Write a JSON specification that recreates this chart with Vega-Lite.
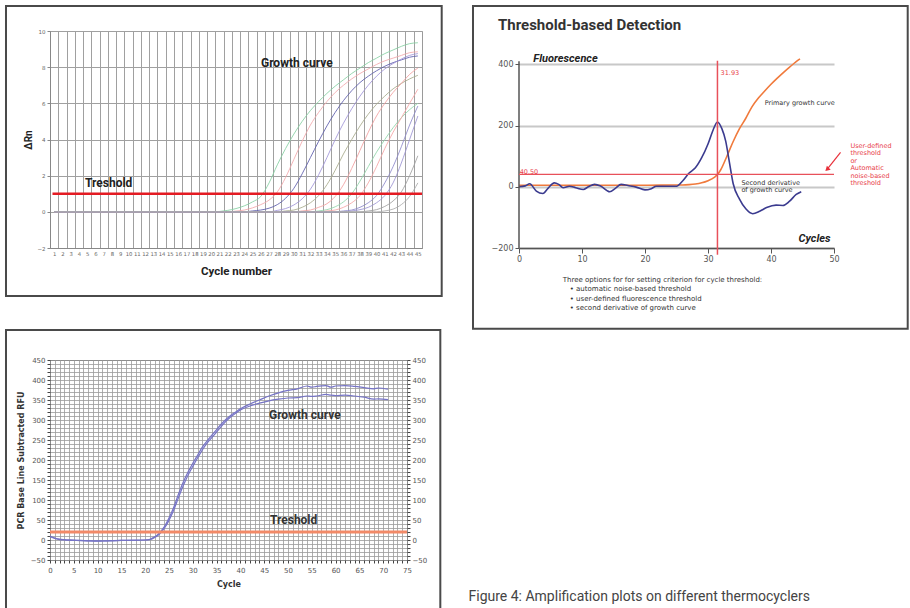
{
  "$schema": "https://vega.github.io/schema/vega-lite/v6.json",
  "background": "white",
  "padding": {"left": 4, "top": 4, "right": 0, "bottom": 0},
  "config": {"view": {"stroke": null}, "font": "Roboto"},
  "title": {"text": "Figure 4: Amplification plots on different thermocyclers", "orient": "bottom", "anchor": "start", "frame": "bounds", "offset": -27, "dx": 464, "font": "Roboto", "fontSize": 14, "fontWeight": "normal", "color": "#444444"},
  "spacing": -2,
  "vconcat": [
    {
      "spacing": 27,
      "hconcat": [
        {
          "width": 372,
          "height": 217,
          "view": {"stroke": "#9a9a9a"},
          "layer": [
            {
              "data": {"name": "p1"},
              "mark": {"type": "line", "interpolate": "monotone", "strokeWidth": 1, "opacity": 0.85},
              "encoding": {
                "x": {"field": "n", "type": "quantitative",
                  "scale": {"domain": [0.5, 45.5], "nice": false, "zero": false},
                  "axis": {"values": [1,2,3,4,5,6,7,8,9,10,11,12,13,14,15,16,17,18,19,20,21,22,23,24,25,26,27,28,29,30,31,32,33,34,35,36,37,38,39,40,41,42,43,44,45],
                    "format": "d", "tickCount": 200, "grid": true, "gridColor": "#a0a0a0", "gridWidth": 1, "ticks": false, "tickOffset": -4.133, "labelOffset": 4.133,
                    "domainColor": "#888888", "labelFont": "DejaVu Sans", "labelFontSize": 5.3, "labelColor": "#666666", "labelPadding": 3,
                    "labelFlush": false, "labelOverlap": false,
                    "title": "Cycle number", "titleFont": "Roboto", "titleFontSize": 11.5, "titleFontWeight": "bold", "titleColor": "#222222", "titlePadding": 9}},
                "y": {"field": "v", "type": "quantitative",
                  "scale": {"domain": [-2, 10], "nice": false, "zero": false},
                  "axis": {"values": [-2,0,2,4,6,8,10], "format": "d", "tickCount": 200, "grid": true, "gridColor": "#a0a0a0", "tickSize": 3, "tickColor": "#888888", "domainColor": "#888888",
                    "labelFont": "DejaVu Sans", "labelFontSize": 5.5, "labelColor": "#666666", "labelPadding": 2, "labelOverlap": false,
                    "title": "ΔRn", "titleFont": "Roboto", "titleFontSize": 10, "titleFontWeight": "bold", "titleColor": "#222222", "titlePadding": 3}},
                "color": {"field": "c", "type": "nominal", "legend": null,
                  "scale": {"domain": ["c1","c2","c3","c4","c5","c6","c7","c8","c9","c10","c11","c12"],
                    "range": ["#86d0a2","#f2a8ac","#5c5cab","#a094d8","#a8aa8c","#f2a0a0","#92d6aa","#f4a6a6","#8e8acb","#9c94d4","#a0a0a0","#ababab"]}}
              }
            },
            {
              "data": {"values": [{}]},
              "mark": {"type": "rule", "color": "#e41b23", "strokeWidth": 2.5},
              "encoding": {"x": {"datum": 0.8, "type": "quantitative"}, "x2": {"datum": 45.5}, "y": {"datum": 1, "type": "quantitative"}}
            },
            {
              "data": {"name": "p1text"},
              "mark": {"type": "text", "align": "left", "baseline": "middle", "font": "Roboto", "fontWeight": "bold", "fontSize": 12, "color": "#222222"},
              "encoding": {"x": {"field": "n", "type": "quantitative"}, "y": {"field": "v", "type": "quantitative"}, "text": {"field": "label"}}
            },
            {
              "data": {"values": [{}]},
              "mark": {"type": "rect", "filled": false, "color": "#4a4a4a", "strokeWidth": 2},
              "encoding": {"x": {"datum": -4.823, "type": "quantitative"}, "x2": {"datum": 47.883}, "y": {"datum": 11.383, "type": "quantitative"}, "y2": {"datum": -4.654}}
            }
          ]
        },
        {
          "width": 315,
          "height": 217,
          "title": {"text": "Threshold-based Detection", "anchor": "start", "offset": -28, "dx": 26, "font": "Roboto", "fontSize": 15, "fontWeight": "bold", "color": "#333333"},
          "layer": [
            {
              "data": {"name": "p2g"},
              "mark": {"type": "line", "interpolate": "monotone", "strokeWidth": 1.6, "color": "#f07a3c"},
              "encoding": {
                "x": {"field": "x", "type": "quantitative",
                  "scale": {"domain": [0, 50], "nice": false, "zero": false},
                  "axis": {"values": [0,10,20,30,40,50], "tickCount": 50, "grid": false, "domainColor": "#555555", "domainWidth": 1.5, "tickColor": "#555555", "tickSize": 5,
                    "labelFont": "DejaVu Sans", "labelFontSize": 8, "labelColor": "#555555", "labelPadding": 2, "labelFlush": false,
                    "title": "Cycles", "titleFont": "Roboto", "titleFontSize": 11, "titleFontWeight": "bold", "titleFontStyle": "italic", "titleColor": "#222222",
                    "titleX": 295, "titleY": -7, "titleAlign": "center", "titleBaseline": "alphabetic"}},
                "y": {"field": "y", "type": "quantitative",
                  "scale": {"domain": [-200, 509.2], "nice": false, "zero": false},
                  "axis": {"values": [-200,0,200,400], "tickCount": 50, "grid": true, "gridColor": "#c8c8c8", "gridWidth": 2, "domain": false, "tickColor": "#555555", "tickSize": 4,
                    "labelFont": "DejaVu Sans", "labelFontSize": 8, "labelColor": "#555555", "labelPadding": 2,
                    "title": "Fluorescence", "titleFont": "Roboto", "titleFontSize": 11, "titleFontWeight": "bold", "titleFontStyle": "italic", "titleColor": "#222222",
                    "titleAngle": 0, "titleX": 46, "titleY": 30.5, "titleAlign": "center", "titleBaseline": "alphabetic"}}
              }
            },
            {
              "data": {"name": "p2d"},
              "mark": {"type": "line", "interpolate": "monotone", "strokeWidth": 1.6, "color": "#3b3b8f"},
              "encoding": {"x": {"field": "x", "type": "quantitative"}, "y": {"field": "y", "type": "quantitative"}}
            },
            {
              "data": {"values": [{}]},
              "mark": {"type": "rule", "color": "#555555", "strokeWidth": 1.5},
              "encoding": {"x": {"datum": 0, "type": "quantitative"}, "y": {"datum": -200, "type": "quantitative"}, "y2": {"datum": 410}}
            },
            {
              "data": {"values": [{}]},
              "mark": {"type": "rule", "color": "#e8505a", "strokeWidth": 1.2},
              "encoding": {"x": {"datum": 0, "type": "quantitative"}, "x2": {"datum": 50}, "y": {"datum": 40.5, "type": "quantitative"}}
            },
            {
              "data": {"values": [{}]},
              "mark": {"type": "rule", "color": "#e8505a", "strokeWidth": 1.5},
              "encoding": {"x": {"datum": 31.5, "type": "quantitative"}, "y": {"datum": -222, "type": "quantitative"}, "y2": {"datum": 412}}
            },
            {
              "data": {"values": [{}]},
              "mark": {"type": "rule", "color": "#e8303a", "strokeWidth": 1.2},
              "encoding": {"x": {"datum": 51.04, "type": "quantitative"}, "y": {"datum": 112.5, "type": "quantitative"}, "x2": {"datum": 48.9}, "y2": {"datum": 57}}
            },
            {
              "data": {"values": [{}]},
              "mark": {"type": "point", "shape": "triangle-up", "filled": true, "size": 30, "angle": 226, "color": "#e8303a", "opacity": 1},
              "encoding": {"x": {"datum": 48.9, "type": "quantitative"}, "y": {"datum": 57, "type": "quantitative"}}
            },
            {
              "data": {"name": "p2red"},
              "mark": {"type": "text", "align": "left", "baseline": "middle", "font": "DejaVu Sans", "fontSize": 6.5, "color": "#e8404a"},
              "encoding": {"x": {"field": "x", "type": "quantitative"}, "y": {"field": "y", "type": "quantitative"}, "text": {"field": "label"}}
            },
            {
              "data": {"name": "p2dark"},
              "mark": {"type": "text", "align": "left", "baseline": "middle", "font": "DejaVu Sans", "fontSize": 6.5, "color": "#333333"},
              "encoding": {"x": {"field": "x", "type": "quantitative"}, "y": {"field": "y", "type": "quantitative"}, "text": {"field": "label"}}
            },
            {
              "data": {"name": "p2note"},
              "mark": {"type": "text", "align": "left", "baseline": "middle", "font": "DejaVu Sans", "fontSize": 7, "color": "#333333"},
              "encoding": {"x": {"field": "x", "type": "quantitative"}, "y": {"field": "y", "type": "quantitative"}, "text": {"field": "label"}}
            },
            {
              "data": {"values": [{}]},
              "mark": {"type": "rect", "filled": false, "color": "#4a4a4a", "strokeWidth": 2},
              "encoding": {"x": {"datum": -7.302, "type": "quantitative"}, "x2": {"datum": 61.7}, "y": {"datum": 590.9, "type": "quantitative"}, "y2": {"datum": -463.5}}
            }
          ]
        }
      ]
    },
    {
      "width": 357,
      "height": 200,
      "view": {"stroke": "#555555"},
      "resolve": {"axis": {"y": "independent"}},
      "layer": [
        {
          "data": {"name": "p3"},
          "mark": {"type": "line", "interpolate": "monotone", "strokeWidth": 1.2, "color": "#7674c6"},
          "encoding": {
            "x": {"field": "x", "type": "quantitative",
              "scale": {"domain": [0, 75], "nice": false, "zero": false},
              "axis": {"values": [0,1,2,3,4,5,6,7,8,9,10,11,12,13,14,15,16,17,18,19,20,21,22,23,24,25,26,27,28,29,30,31,32,33,34,35,36,37,38,39,40,41,42,43,44,45,46,47,48,49,50,51,52,53,54,55,56,57,58,59,60,61,62,63,64,65,66,67,68,69,70,71,72,73,74,75],
                "format": "d", "tickCount": 200, "grid": true, "gridColor": "#9a9a9a", "gridWidth": 0.8, "tickSize": 3, "tickColor": "#444444", "domain": false,
                "labelExpr": "datum.value % 5 === 0 ? datum.label : ''",
                "labelFont": "DejaVu Sans", "labelFontSize": 7, "labelColor": "#555555", "labelPadding": 3, "labelFlush": false, "labelOverlap": false,
                "title": "Cycle", "titleFont": "DejaVu Sans", "titleFontSize": 8, "titleFontWeight": "bold", "titleColor": "#333333", "titlePadding": 7}},
            "y": {"field": "y", "type": "quantitative",
              "scale": {"domain": [-50, 450], "nice": false, "zero": false},
              "axis": {"orient": "left", "values": [-50,-40,-30,-20,-10,0,10,20,30,40,50,60,70,80,90,100,110,120,130,140,150,160,170,180,190,200,210,220,230,240,250,260,270,280,290,300,310,320,330,340,350,360,370,380,390,400,410,420,430,440,450],
                "format": "d", "tickCount": 200, "grid": true, "gridColor": "#9a9a9a", "gridWidth": 0.8, "tickSize": 3, "tickColor": "#444444", "domain": false,
                "labelExpr": "datum.value % 50 === 0 ? datum.label : ''",
                "labelFont": "DejaVu Sans", "labelFontSize": 7, "labelColor": "#555555", "labelPadding": 2, "labelOverlap": false,
                "title": "PCR Base Line Subtracted RFU", "titleFont": "DejaVu Sans", "titleFontSize": 8, "titleFontWeight": "bold", "titleColor": "#333333", "titlePadding": 5}},
            "detail": {"field": "s", "type": "nominal"}
          }
        },
        {
          "data": {"values": [{}]},
          "mark": {"type": "rule", "color": "#f28a68", "strokeWidth": 3},
          "encoding": {
            "x": {"datum": 0, "type": "quantitative"}, "x2": {"datum": 75},
            "y": {"datum": 20, "type": "quantitative",
              "axis": {"orient": "right", "values": [-50,-40,-30,-20,-10,0,10,20,30,40,50,60,70,80,90,100,110,120,130,140,150,160,170,180,190,200,210,220,230,240,250,260,270,280,290,300,310,320,330,340,350,360,370,380,390,400,410,420,430,440,450],
                "format": "d", "tickCount": 200, "grid": false, "tickSize": 3, "tickColor": "#444444", "domain": false,
                "labelExpr": "datum.value % 50 === 0 ? datum.label : ''",
                "labelFont": "DejaVu Sans", "labelFontSize": 7, "labelColor": "#555555", "labelPadding": 2, "labelOverlap": false, "title": null}}
          }
        },
        {
          "data": {"name": "p3text"},
          "mark": {"type": "text", "align": "left", "baseline": "middle", "font": "Roboto", "fontWeight": "bold", "fontSize": 12, "color": "#333333"},
          "encoding": {"x": {"field": "x", "type": "quantitative"}, "y": {"field": "y", "type": "quantitative", "axis": null}, "text": {"field": "label"}}
        },
        {
          "data": {"values": [{}]},
          "mark": {"type": "rect", "filled": false, "color": "#4a4a4a", "strokeWidth": 2},
          "encoding": {"x": {"datum": -9.244, "type": "quantitative"}, "x2": {"datum": 82.0}, "y": {"datum": 525, "type": "quantitative", "axis": null}, "y2": {"datum": -189.25}}
        }
      ]
    }
  ],
  "datasets": {
    "p1text": [
      {"label": "Growth curve", "n": 26.02, "v": 8.23},
      {"label": "Treshold", "n": 4.73, "v": 1.594}
    ],
    "p3text": [
      {"label": "Growth curve", "x": 46.0, "y": 313},
      {"label": "Treshold", "x": 46.2, "y": 51}
    ],
    "p2red": [
      {"label": "31.93", "x": 32.0, "y": 372},
      {"label": "40.50", "x": 0.1, "y": 47},
      {"label": "User-defined", "x": 52.6, "y": 132},
      {"label": "threshold", "x": 52.6, "y": 109.2},
      {"label": "or", "x": 52.6, "y": 85.4},
      {"label": "Automatic", "x": 52.6, "y": 60.3},
      {"label": "noise-based", "x": 52.6, "y": 35.5},
      {"label": "threshold", "x": 52.6, "y": 11.4}
    ],
    "p2dark": [
      {"label": "Primary growth curve", "x": 39.0, "y": 275},
      {"label": "Second derivative", "x": 35.3, "y": 11},
      {"label": "of growth curve", "x": 35.3, "y": -12}
    ],
    "p2note": [
      {"label": "Three options for for setting criterion for cycle threshold:", "x": 6.94, "y": -306},
      {"label": "• automatic noise-based threshold", "x": 8.05, "y": -335},
      {"label": "• user-defined fluorescence threshold", "x": 8.05, "y": -367},
      {"label": "• second derivative of growth curve", "x": 8.05, "y": -396}
    ],
    "p2g": [
      {"x": 0, "y": 5}, {"x": 5, "y": 5}, {"x": 10, "y": 5}, {"x": 15, "y": 5},
      {"x": 20, "y": 5}, {"x": 25, "y": 6}, {"x": 26, "y": 6}, {"x": 27, "y": 7},
      {"x": 28, "y": 9}, {"x": 29, "y": 13}, {"x": 30, "y": 20}, {"x": 31, "y": 31},
      {"x": 31.5, "y": 40}, {"x": 32, "y": 55}, {"x": 33, "y": 100}, {"x": 34, "y": 148},
      {"x": 35, "y": 190}, {"x": 36, "y": 224}, {"x": 37, "y": 262}, {"x": 38, "y": 290},
      {"x": 39, "y": 313}, {"x": 40, "y": 335}, {"x": 41, "y": 355}, {"x": 42, "y": 374},
      {"x": 43, "y": 392}, {"x": 44, "y": 409}, {"x": 44.6, "y": 418}
    ],
    "p2d": [
      {"x": 0, "y": 0}, {"x": 1, "y": 3}, {"x": 1.7, "y": 10}, {"x": 2.75, "y": -14},
      {"x": 3.8, "y": -22}, {"x": 4.6, "y": -5}, {"x": 5.6, "y": 13}, {"x": 6.3, "y": 8},
      {"x": 7, "y": -3}, {"x": 8, "y": 2}, {"x": 9, "y": -3}, {"x": 10.2, "y": -9},
      {"x": 11, "y": 0}, {"x": 12, "y": 8}, {"x": 13, "y": 2}, {"x": 14.4, "y": -16},
      {"x": 15.3, "y": -5}, {"x": 16.2, "y": 8}, {"x": 17.3, "y": 4}, {"x": 18.6, "y": -1},
      {"x": 20, "y": -10}, {"x": 21, "y": -6}, {"x": 21.8, "y": 2}, {"x": 23, "y": 2},
      {"x": 25, "y": 2}, {"x": 26, "y": 20}, {"x": 27, "y": 45}, {"x": 28, "y": 62},
      {"x": 29, "y": 95}, {"x": 30, "y": 140}, {"x": 30.8, "y": 185}, {"x": 31.5, "y": 212},
      {"x": 32.2, "y": 190}, {"x": 32.8, "y": 150}, {"x": 33.4, "y": 80}, {"x": 34, "y": 10},
      {"x": 35, "y": -40}, {"x": 36, "y": -72}, {"x": 37.1, "y": -88}, {"x": 38.2, "y": -80},
      {"x": 39.3, "y": -68}, {"x": 40.8, "y": -60}, {"x": 41.9, "y": -61}, {"x": 42.9, "y": -48},
      {"x": 44, "y": -25}, {"x": 44.8, "y": -16}
    ],
    "p3": [
      {"s": "U", "x": 0, "y": 10}, {"s": "U", "x": 1, "y": 5}, {"s": "U", "x": 2, "y": 2}, {"s": "U", "x": 3, "y": 1}, {"s": "U", "x": 5, "y": 0},
      {"s": "U", "x": 8, "y": -2}, {"s": "U", "x": 10, "y": -3}, {"s": "U", "x": 12, "y": -2}, {"s": "U", "x": 15, "y": -1}, {"s": "U", "x": 18, "y": -1},
      {"s": "U", "x": 20, "y": 0}, {"s": "U", "x": 21, "y": 2}, {"s": "U", "x": 22, "y": 8}, {"s": "U", "x": 23, "y": 18}, {"s": "U", "x": 24, "y": 33},
      {"s": "U", "x": 25, "y": 55}, {"s": "U", "x": 26, "y": 82}, {"s": "U", "x": 27, "y": 115}, {"s": "U", "x": 28, "y": 145}, {"s": "U", "x": 29, "y": 170},
      {"s": "U", "x": 30, "y": 192}, {"s": "U", "x": 31, "y": 212}, {"s": "U", "x": 32, "y": 232}, {"s": "U", "x": 33, "y": 248}, {"s": "U", "x": 34, "y": 262},
      {"s": "U", "x": 35, "y": 276}, {"s": "U", "x": 36, "y": 290}, {"s": "U", "x": 37, "y": 302}, {"s": "U", "x": 38, "y": 312}, {"s": "U", "x": 39, "y": 320},
      {"s": "U", "x": 40, "y": 328}, {"s": "U", "x": 42, "y": 340}, {"s": "U", "x": 44, "y": 350}, {"s": "U", "x": 46, "y": 360}, {"s": "U", "x": 48, "y": 368},
      {"s": "U", "x": 50, "y": 374}, {"s": "U", "x": 52, "y": 378}, {"s": "U", "x": 54, "y": 385}, {"s": "U", "x": 55, "y": 382}, {"s": "U", "x": 56, "y": 384},
      {"s": "U", "x": 58, "y": 386}, {"s": "U", "x": 59, "y": 382}, {"s": "U", "x": 60, "y": 385}, {"s": "U", "x": 62, "y": 386}, {"s": "U", "x": 64, "y": 384},
      {"s": "U", "x": 66, "y": 381}, {"s": "U", "x": 68, "y": 378}, {"s": "U", "x": 69, "y": 380}, {"s": "U", "x": 71, "y": 377},
      {"s": "L", "x": 0, "y": 8}, {"s": "L", "x": 1, "y": 4}, {"s": "L", "x": 2, "y": 1}, {"s": "L", "x": 3, "y": 0}, {"s": "L", "x": 5, "y": -1},
      {"s": "L", "x": 8, "y": -2}, {"s": "L", "x": 10, "y": -2}, {"s": "L", "x": 12, "y": -2}, {"s": "L", "x": 15, "y": -1}, {"s": "L", "x": 18, "y": 0},
      {"s": "L", "x": 20, "y": 0}, {"s": "L", "x": 21, "y": 1}, {"s": "L", "x": 22, "y": 6}, {"s": "L", "x": 23, "y": 15}, {"s": "L", "x": 24, "y": 29},
      {"s": "L", "x": 25, "y": 49}, {"s": "L", "x": 26, "y": 75}, {"s": "L", "x": 27, "y": 106}, {"s": "L", "x": 28, "y": 136}, {"s": "L", "x": 29, "y": 162},
      {"s": "L", "x": 30, "y": 184}, {"s": "L", "x": 31, "y": 205}, {"s": "L", "x": 32, "y": 225}, {"s": "L", "x": 33, "y": 242}, {"s": "L", "x": 34, "y": 256},
      {"s": "L", "x": 35, "y": 270}, {"s": "L", "x": 36, "y": 284}, {"s": "L", "x": 37, "y": 297}, {"s": "L", "x": 38, "y": 308}, {"s": "L", "x": 39, "y": 317},
      {"s": "L", "x": 40, "y": 325}, {"s": "L", "x": 42, "y": 335}, {"s": "L", "x": 44, "y": 342}, {"s": "L", "x": 46, "y": 348}, {"s": "L", "x": 48, "y": 352},
      {"s": "L", "x": 50, "y": 355}, {"s": "L", "x": 52, "y": 356}, {"s": "L", "x": 54, "y": 360}, {"s": "L", "x": 55, "y": 359}, {"s": "L", "x": 56, "y": 360},
      {"s": "L", "x": 58, "y": 364}, {"s": "L", "x": 59, "y": 362}, {"s": "L", "x": 60, "y": 361}, {"s": "L", "x": 62, "y": 362}, {"s": "L", "x": 64, "y": 360},
      {"s": "L", "x": 66, "y": 357}, {"s": "L", "x": 68, "y": 352}, {"s": "L", "x": 69, "y": 353}, {"s": "L", "x": 71, "y": 351}
    ],
    "p1": [
      {"c":"c1","n":1,"v":0},{"c":"c1","n":20,"v":0},{"c":"c1","n":21,"v":0.02},{"c":"c1","n":22,"v":0.08},{"c":"c1","n":23,"v":0.18},{"c":"c1","n":24,"v":0.33},{"c":"c1","n":25,"v":0.55},{"c":"c1","n":26,"v":0.85},{"c":"c1","n":27,"v":1.6},{"c":"c1","n":28,"v":2.6},{"c":"c1","n":29,"v":3.5},{"c":"c1","n":30,"v":4.3},{"c":"c1","n":31,"v":5.0},{"c":"c1","n":32,"v":5.6},{"c":"c1","n":33,"v":6.1},{"c":"c1","n":34,"v":6.55},{"c":"c1","n":35,"v":6.95},{"c":"c1","n":36,"v":7.3},{"c":"c1","n":37,"v":7.65},{"c":"c1","n":38,"v":7.95},{"c":"c1","n":39,"v":8.25},{"c":"c1","n":40,"v":8.5},{"c":"c1","n":41,"v":8.75},{"c":"c1","n":42,"v":8.95},{"c":"c1","n":43,"v":9.15},{"c":"c1","n":44,"v":9.3},{"c":"c1","n":45,"v":9.35},
      {"c":"c2","n":1,"v":0},{"c":"c2","n":22,"v":0},{"c":"c2","n":23,"v":0.04},{"c":"c2","n":24,"v":0.1},{"c":"c2","n":25,"v":0.22},{"c":"c2","n":26,"v":0.4},{"c":"c2","n":27,"v":0.65},{"c":"c2","n":28,"v":1.1},{"c":"c2","n":29,"v":1.9},{"c":"c2","n":30,"v":2.9},{"c":"c2","n":31,"v":3.9},{"c":"c2","n":32,"v":4.8},{"c":"c2","n":33,"v":5.5},{"c":"c2","n":34,"v":6.1},{"c":"c2","n":35,"v":6.6},{"c":"c2","n":36,"v":7.0},{"c":"c2","n":37,"v":7.35},{"c":"c2","n":38,"v":7.65},{"c":"c2","n":39,"v":7.9},{"c":"c2","n":40,"v":8.15},{"c":"c2","n":41,"v":8.35},{"c":"c2","n":42,"v":8.5},{"c":"c2","n":43,"v":8.65},{"c":"c2","n":44,"v":8.8},{"c":"c2","n":45,"v":8.85},
      {"c":"c3","n":1,"v":0},{"c":"c3","n":24,"v":0},{"c":"c3","n":25,"v":0.05},{"c":"c3","n":26,"v":0.1},{"c":"c3","n":27,"v":0.2},{"c":"c3","n":28,"v":0.4},{"c":"c3","n":29,"v":0.75},{"c":"c3","n":30,"v":1.3},{"c":"c3","n":31,"v":2.1},{"c":"c3","n":32,"v":3.0},{"c":"c3","n":33,"v":3.9},{"c":"c3","n":34,"v":4.75},{"c":"c3","n":35,"v":5.5},{"c":"c3","n":36,"v":6.15},{"c":"c3","n":37,"v":6.7},{"c":"c3","n":38,"v":7.15},{"c":"c3","n":39,"v":7.5},{"c":"c3","n":40,"v":7.8},{"c":"c3","n":41,"v":8.05},{"c":"c3","n":42,"v":8.25},{"c":"c3","n":43,"v":8.4},{"c":"c3","n":44,"v":8.55},{"c":"c3","n":45,"v":8.62},
      {"c":"c4","n":1,"v":0},{"c":"c4","n":27,"v":0},{"c":"c4","n":28,"v":0.08},{"c":"c4","n":29,"v":0.18},{"c":"c4","n":30,"v":0.38},{"c":"c4","n":31,"v":0.72},{"c":"c4","n":32,"v":1.25},{"c":"c4","n":33,"v":2.05},{"c":"c4","n":34,"v":3.0},{"c":"c4","n":35,"v":4.0},{"c":"c4","n":36,"v":4.9},{"c":"c4","n":37,"v":5.7},{"c":"c4","n":38,"v":6.4},{"c":"c4","n":39,"v":7.0},{"c":"c4","n":40,"v":7.5},{"c":"c4","n":41,"v":7.9},{"c":"c4","n":42,"v":8.2},{"c":"c4","n":43,"v":8.45},{"c":"c4","n":44,"v":8.65},{"c":"c4","n":45,"v":8.75},
      {"c":"c5","n":1,"v":0},{"c":"c5","n":28,"v":0},{"c":"c5","n":29,"v":0.05},{"c":"c5","n":30,"v":0.1},{"c":"c5","n":31,"v":0.25},{"c":"c5","n":32,"v":0.5},{"c":"c5","n":33,"v":0.9},{"c":"c5","n":34,"v":1.5},{"c":"c5","n":35,"v":2.3},{"c":"c5","n":36,"v":3.2},{"c":"c5","n":37,"v":4.0},{"c":"c5","n":38,"v":4.75},{"c":"c5","n":39,"v":5.4},{"c":"c5","n":40,"v":5.95},{"c":"c5","n":41,"v":6.4},{"c":"c5","n":42,"v":6.8},{"c":"c5","n":43,"v":7.1},{"c":"c5","n":44,"v":7.35},{"c":"c5","n":45,"v":7.55},
      {"c":"c6","n":1,"v":0},{"c":"c6","n":30,"v":0},{"c":"c6","n":31,"v":0.05},{"c":"c6","n":32,"v":0.1},{"c":"c6","n":33,"v":0.25},{"c":"c6","n":34,"v":0.45},{"c":"c6","n":35,"v":0.85},{"c":"c6","n":36,"v":1.5},{"c":"c6","n":37,"v":2.4},{"c":"c6","n":38,"v":3.4},{"c":"c6","n":39,"v":4.4},{"c":"c6","n":40,"v":5.3},{"c":"c6","n":41,"v":6.0},{"c":"c6","n":42,"v":6.6},{"c":"c6","n":43,"v":7.1},{"c":"c6","n":44,"v":7.6},{"c":"c6","n":45,"v":7.95},
      {"c":"c7","n":1,"v":0},{"c":"c7","n":32,"v":0},{"c":"c7","n":33,"v":0.05},{"c":"c7","n":34,"v":0.12},{"c":"c7","n":35,"v":0.28},{"c":"c7","n":36,"v":0.55},{"c":"c7","n":37,"v":1.0},{"c":"c7","n":38,"v":1.7},{"c":"c7","n":39,"v":2.5},{"c":"c7","n":40,"v":3.3},{"c":"c7","n":41,"v":4.0},{"c":"c7","n":42,"v":4.65},{"c":"c7","n":43,"v":5.2},{"c":"c7","n":44,"v":5.65},{"c":"c7","n":45,"v":6.0},
      {"c":"c8","n":1,"v":0},{"c":"c8","n":33,"v":0},{"c":"c8","n":34,"v":0.05},{"c":"c8","n":35,"v":0.1},{"c":"c8","n":36,"v":0.25},{"c":"c8","n":37,"v":0.5},{"c":"c8","n":38,"v":0.9},{"c":"c8","n":39,"v":1.6},{"c":"c8","n":40,"v":2.5},{"c":"c8","n":41,"v":3.5},{"c":"c8","n":42,"v":4.4},{"c":"c8","n":43,"v":5.2},{"c":"c8","n":44,"v":6.0},{"c":"c8","n":45,"v":6.78},
      {"c":"c9","n":1,"v":0},{"c":"c9","n":35,"v":0},{"c":"c9","n":36,"v":0.05},{"c":"c9","n":37,"v":0.1},{"c":"c9","n":38,"v":0.25},{"c":"c9","n":39,"v":0.5},{"c":"c9","n":40,"v":0.9},{"c":"c9","n":41,"v":1.6},{"c":"c9","n":42,"v":2.5},{"c":"c9","n":43,"v":3.6},{"c":"c9","n":44,"v":4.8},{"c":"c9","n":45,"v":5.85},
      {"c":"c10","n":1,"v":0},{"c":"c10","n":36,"v":0},{"c":"c10","n":37,"v":0.05},{"c":"c10","n":38,"v":0.12},{"c":"c10","n":39,"v":0.25},{"c":"c10","n":40,"v":0.5},{"c":"c10","n":41,"v":0.9},{"c":"c10","n":42,"v":1.6},{"c":"c10","n":43,"v":2.7},{"c":"c10","n":44,"v":4.0},{"c":"c10","n":45,"v":5.3},
      {"c":"c11","n":1,"v":0},{"c":"c11","n":38,"v":0},{"c":"c11","n":39,"v":0.05},{"c":"c11","n":40,"v":0.12},{"c":"c11","n":41,"v":0.3},{"c":"c11","n":42,"v":0.6},{"c":"c11","n":43,"v":1.1},{"c":"c11","n":44,"v":2.0},{"c":"c11","n":45,"v":3.1},
      {"c":"c12","n":1,"v":0},{"c":"c12","n":40,"v":0},{"c":"c12","n":41,"v":0.05},{"c":"c12","n":42,"v":0.15},{"c":"c12","n":43,"v":0.4},{"c":"c12","n":44,"v":0.85},{"c":"c12","n":45,"v":1.6}
    ]
  }
}
